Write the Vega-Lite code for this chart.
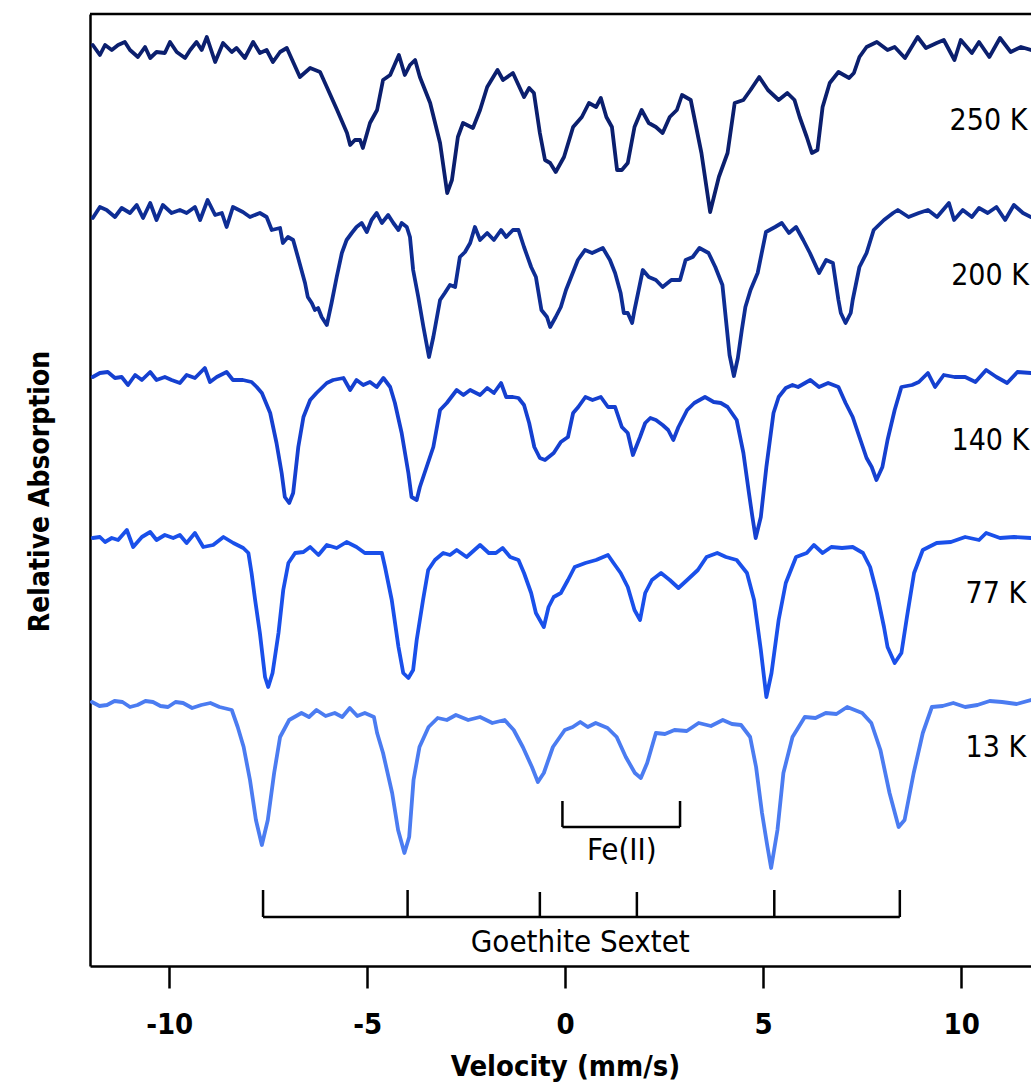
{
"$schema": "https://vega.github.io/schema/vega-lite/v6.json",
"width": 941,
"height": 952,
"autosize": {"type": "none"},
"padding": {"left": 90, "top": 14, "right": 0, "bottom": 118},
"background": "white",
"config": {"view": {"stroke": null}, "font": "DejaVu Sans Condensed"},
"datasets": {
"spectra": [
{"T":"250 K","v":-11.93,"a":92.1},{"T":"250 K","v":-11.75,"a":91.1},{"T":"250 K","v":-11.62,"a":92.1},{"T":"250 K","v":-11.45,"a":91.6},{"T":"250 K","v":-11.29,"a":92.1},{"T":"250 K","v":-11.12,"a":92.4},{"T":"250 K","v":-10.99,"a":91.6},{"T":"250 K","v":-10.79,"a":90.9},{"T":"250 K","v":-10.61,"a":91.9},{"T":"250 K","v":-10.48,"a":90.8},{"T":"250 K","v":-10.32,"a":91.4},{"T":"250 K","v":-10.11,"a":91.3},{"T":"250 K","v":-9.98,"a":92.4},{"T":"250 K","v":-9.81,"a":91.4},{"T":"250 K","v":-9.6,"a":90.8},{"T":"250 K","v":-9.47,"a":91.6},{"T":"250 K","v":-9.31,"a":92.4},{"T":"250 K","v":-9.18,"a":91.6},{"T":"250 K","v":-9.05,"a":92.9},{"T":"250 K","v":-8.84,"a":90.4},{"T":"250 K","v":-8.64,"a":92.3},{"T":"250 K","v":-8.42,"a":91.4},{"T":"250 K","v":-8.3,"a":91.8},{"T":"250 K","v":-8.09,"a":90.8},{"T":"250 K","v":-7.88,"a":92.4},{"T":"250 K","v":-7.71,"a":91.3},{"T":"250 K","v":-7.54,"a":91.6},{"T":"250 K","v":-7.38,"a":90.4},{"T":"250 K","v":-7.2,"a":91.4},{"T":"250 K","v":-7.03,"a":91.8},{"T":"250 K","v":-6.7,"a":88.9},{"T":"250 K","v":-6.44,"a":89.8},{"T":"250 K","v":-6.19,"a":89.4},{"T":"250 K","v":-6.02,"a":87.9},{"T":"250 K","v":-5.76,"a":85.6},{"T":"250 K","v":-5.51,"a":83.3},{"T":"250 K","v":-5.43,"a":82.1},{"T":"250 K","v":-5.31,"a":82.6},{"T":"250 K","v":-5.18,"a":82.6},{"T":"250 K","v":-5.11,"a":81.8},{"T":"250 K","v":-4.93,"a":84.3},{"T":"250 K","v":-4.75,"a":85.6},{"T":"250 K","v":-4.6,"a":88.6},{"T":"250 K","v":-4.42,"a":89.1},{"T":"250 K","v":-4.2,"a":91.1},{"T":"250 K","v":-4.05,"a":89.1},{"T":"250 K","v":-3.92,"a":90.1},{"T":"250 K","v":-3.79,"a":90.6},{"T":"250 K","v":-3.67,"a":88.9},{"T":"250 K","v":-3.41,"a":86.3},{"T":"250 K","v":-3.16,"a":82.3},{"T":"250 K","v":-2.98,"a":77.3},{"T":"250 K","v":-2.86,"a":78.6},{"T":"250 K","v":-2.71,"a":82.9},{"T":"250 K","v":-2.58,"a":84.3},{"T":"250 K","v":-2.33,"a":83.8},{"T":"250 K","v":-2.15,"a":85.6},{"T":"250 K","v":-1.97,"a":87.9},{"T":"250 K","v":-1.71,"a":89.6},{"T":"250 K","v":-1.57,"a":88.6},{"T":"250 K","v":-1.32,"a":89.3},{"T":"250 K","v":-1.04,"a":86.9},{"T":"250 K","v":-0.91,"a":87.8},{"T":"250 K","v":-0.79,"a":87.3},{"T":"250 K","v":-0.64,"a":83.3},{"T":"250 K","v":-0.51,"a":80.6},{"T":"250 K","v":-0.38,"a":80.3},{"T":"250 K","v":-0.24,"a":79.4},{"T":"250 K","v":-0.03,"a":80.9},{"T":"250 K","v":0.2,"a":83.9},{"T":"250 K","v":0.42,"a":84.9},{"T":"250 K","v":0.6,"a":86.3},{"T":"250 K","v":0.78,"a":85.9},{"T":"250 K","v":0.9,"a":86.8},{"T":"250 K","v":1.04,"a":84.9},{"T":"250 K","v":1.18,"a":83.9},{"T":"250 K","v":1.31,"a":79.6},{"T":"250 K","v":1.43,"a":79.6},{"T":"250 K","v":1.58,"a":80.3},{"T":"250 K","v":1.75,"a":83.9},{"T":"250 K","v":1.93,"a":85.6},{"T":"250 K","v":2.11,"a":84.3},{"T":"250 K","v":2.29,"a":83.9},{"T":"250 K","v":2.46,"a":83.3},{"T":"250 K","v":2.64,"a":84.9},{"T":"250 K","v":2.82,"a":85.6},{"T":"250 K","v":2.95,"a":87.1},{"T":"250 K","v":3.17,"a":86.6},{"T":"250 K","v":3.44,"a":81.3},{"T":"250 K","v":3.66,"a":75.4},{"T":"250 K","v":3.88,"a":78.9},{"T":"250 K","v":4.1,"a":81.3},{"T":"250 K","v":4.28,"a":86.3},{"T":"250 K","v":4.5,"a":86.6},{"T":"250 K","v":4.68,"a":87.6},{"T":"250 K","v":4.9,"a":88.9},{"T":"250 K","v":5.12,"a":87.6},{"T":"250 K","v":5.39,"a":86.6},{"T":"250 K","v":5.61,"a":87.3},{"T":"250 K","v":5.79,"a":86.6},{"T":"250 K","v":5.92,"a":84.9},{"T":"250 K","v":6.1,"a":82.9},{"T":"250 K","v":6.23,"a":81.3},{"T":"250 K","v":6.37,"a":81.6},{"T":"250 K","v":6.5,"a":85.9},{"T":"250 K","v":6.68,"a":88.3},{"T":"250 K","v":6.9,"a":89.4},{"T":"250 K","v":7.17,"a":88.8},{"T":"250 K","v":7.29,"a":89.3},{"T":"250 K","v":7.43,"a":90.9},{"T":"250 K","v":7.61,"a":91.9},{"T":"250 K","v":7.87,"a":92.4},{"T":"250 K","v":8.14,"a":91.6},{"T":"250 K","v":8.32,"a":91.9},{"T":"250 K","v":8.58,"a":90.8},{"T":"250 K","v":8.9,"a":92.9},{"T":"250 K","v":9.11,"a":91.8},{"T":"250 K","v":9.38,"a":92.3},{"T":"250 K","v":9.56,"a":92.6},{"T":"250 K","v":9.83,"a":90.6},{"T":"250 K","v":9.99,"a":92.6},{"T":"250 K","v":10.27,"a":91.3},{"T":"250 K","v":10.45,"a":92.4},{"T":"250 K","v":10.71,"a":90.9},{"T":"250 K","v":10.98,"a":92.8},{"T":"250 K","v":11.25,"a":91.4},{"T":"250 K","v":11.51,"a":91.9},{"T":"250 K","v":11.76,"a":91.6},

{"T":"200 K","v":-11.93,"a":74.8},{"T":"200 K","v":-11.75,"a":75.9},{"T":"200 K","v":-11.58,"a":75.6},{"T":"200 K","v":-11.37,"a":74.9},{"T":"200 K","v":-11.2,"a":75.8},{"T":"200 K","v":-10.99,"a":75.3},{"T":"200 K","v":-10.82,"a":76.1},{"T":"200 K","v":-10.66,"a":74.8},{"T":"200 K","v":-10.48,"a":76.3},{"T":"200 K","v":-10.32,"a":74.6},{"T":"200 K","v":-10.16,"a":76.1},{"T":"200 K","v":-9.94,"a":75.3},{"T":"200 K","v":-9.73,"a":75.6},{"T":"200 K","v":-9.56,"a":75.3},{"T":"200 K","v":-9.35,"a":75.9},{"T":"200 K","v":-9.22,"a":74.6},{"T":"200 K","v":-9.03,"a":76.6},{"T":"200 K","v":-8.84,"a":75.1},{"T":"200 K","v":-8.67,"a":75.3},{"T":"200 K","v":-8.55,"a":73.9},{"T":"200 K","v":-8.39,"a":75.9},{"T":"200 K","v":-8.14,"a":75.4},{"T":"200 K","v":-7.96,"a":74.9},{"T":"200 K","v":-7.71,"a":75.3},{"T":"200 K","v":-7.54,"a":74.9},{"T":"200 K","v":-7.41,"a":73.6},{"T":"200 K","v":-7.2,"a":73.8},{"T":"200 K","v":-7.13,"a":72.3},{"T":"200 K","v":-7.0,"a":72.9},{"T":"200 K","v":-6.87,"a":72.6},{"T":"200 K","v":-6.75,"a":70.9},{"T":"200 K","v":-6.57,"a":68.3},{"T":"200 K","v":-6.5,"a":66.9},{"T":"200 K","v":-6.4,"a":66.3},{"T":"200 K","v":-6.32,"a":65.6},{"T":"200 K","v":-6.24,"a":65.8},{"T":"200 K","v":-6.15,"a":64.9},{"T":"200 K","v":-6.02,"a":64.1},{"T":"200 K","v":-5.9,"a":66.3},{"T":"200 K","v":-5.77,"a":68.9},{"T":"200 K","v":-5.64,"a":71.3},{"T":"200 K","v":-5.52,"a":72.6},{"T":"200 K","v":-5.39,"a":73.3},{"T":"200 K","v":-5.27,"a":73.9},{"T":"200 K","v":-5.14,"a":74.3},{"T":"200 K","v":-5.01,"a":73.4},{"T":"200 K","v":-4.89,"a":74.6},{"T":"200 K","v":-4.76,"a":75.3},{"T":"200 K","v":-4.63,"a":74.3},{"T":"200 K","v":-4.47,"a":75.1},{"T":"200 K","v":-4.34,"a":74.3},{"T":"200 K","v":-4.21,"a":73.6},{"T":"200 K","v":-4.13,"a":74.3},{"T":"200 K","v":-4.0,"a":73.9},{"T":"200 K","v":-3.92,"a":72.9},{"T":"200 K","v":-3.84,"a":69.6},{"T":"200 K","v":-3.71,"a":66.9},{"T":"200 K","v":-3.58,"a":63.9},{"T":"200 K","v":-3.44,"a":60.9},{"T":"200 K","v":-3.33,"a":62.9},{"T":"200 K","v":-3.16,"a":66.6},{"T":"200 K","v":-3.04,"a":67.3},{"T":"200 K","v":-2.91,"a":68.1},{"T":"200 K","v":-2.78,"a":67.9},{"T":"200 K","v":-2.66,"a":70.9},{"T":"200 K","v":-2.53,"a":71.4},{"T":"200 K","v":-2.4,"a":72.3},{"T":"200 K","v":-2.28,"a":73.9},{"T":"200 K","v":-2.15,"a":72.6},{"T":"200 K","v":-1.97,"a":73.3},{"T":"200 K","v":-1.8,"a":72.6},{"T":"200 K","v":-1.62,"a":73.6},{"T":"200 K","v":-1.49,"a":72.9},{"T":"200 K","v":-1.32,"a":73.6},{"T":"200 K","v":-1.18,"a":73.6},{"T":"200 K","v":-1.04,"a":71.9},{"T":"200 K","v":-0.86,"a":69.9},{"T":"200 K","v":-0.74,"a":68.9},{"T":"200 K","v":-0.6,"a":65.6},{"T":"200 K","v":-0.46,"a":64.9},{"T":"200 K","v":-0.38,"a":63.9},{"T":"200 K","v":-0.24,"a":64.9},{"T":"200 K","v":-0.11,"a":65.9},{"T":"200 K","v":0.02,"a":67.6},{"T":"200 K","v":0.15,"a":68.9},{"T":"200 K","v":0.32,"a":70.6},{"T":"200 K","v":0.5,"a":71.6},{"T":"200 K","v":0.68,"a":71.3},{"T":"200 K","v":0.95,"a":71.8},{"T":"200 K","v":1.13,"a":70.6},{"T":"200 K","v":1.26,"a":69.3},{"T":"200 K","v":1.4,"a":67.3},{"T":"200 K","v":1.48,"a":65.3},{"T":"200 K","v":1.58,"a":65.3},{"T":"200 K","v":1.69,"a":64.3},{"T":"200 K","v":1.75,"a":65.6},{"T":"200 K","v":1.84,"a":67.3},{"T":"200 K","v":1.96,"a":69.6},{"T":"200 K","v":2.11,"a":68.9},{"T":"200 K","v":2.29,"a":68.6},{"T":"200 K","v":2.46,"a":67.9},{"T":"200 K","v":2.68,"a":68.6},{"T":"200 K","v":2.9,"a":68.6},{"T":"200 K","v":3.04,"a":70.6},{"T":"200 K","v":3.22,"a":70.9},{"T":"200 K","v":3.39,"a":71.8},{"T":"200 K","v":3.62,"a":71.3},{"T":"200 K","v":3.79,"a":69.9},{"T":"200 K","v":3.97,"a":68.1},{"T":"200 K","v":4.06,"a":64.6},{"T":"200 K","v":4.15,"a":61.1},{"T":"200 K","v":4.26,"a":59.0},{"T":"200 K","v":4.36,"a":60.8},{"T":"200 K","v":4.46,"a":63.6},{"T":"200 K","v":4.55,"a":65.9},{"T":"200 K","v":4.68,"a":67.6},{"T":"200 K","v":4.86,"a":69.3},{"T":"200 K","v":5.07,"a":73.4},{"T":"200 K","v":5.3,"a":73.9},{"T":"200 K","v":5.47,"a":74.3},{"T":"200 K","v":5.65,"a":73.3},{"T":"200 K","v":5.83,"a":73.9},{"T":"200 K","v":6.01,"a":72.6},{"T":"200 K","v":6.18,"a":71.3},{"T":"200 K","v":6.41,"a":69.3},{"T":"200 K","v":6.59,"a":70.6},{"T":"200 K","v":6.76,"a":70.3},{"T":"200 K","v":6.9,"a":66.6},{"T":"200 K","v":6.96,"a":65.3},{"T":"200 K","v":7.08,"a":64.3},{"T":"200 K","v":7.21,"a":65.3},{"T":"200 K","v":7.26,"a":66.6},{"T":"200 K","v":7.43,"a":69.9},{"T":"200 K","v":7.61,"a":71.3},{"T":"200 K","v":7.79,"a":73.6},{"T":"200 K","v":8.05,"a":74.6},{"T":"200 K","v":8.28,"a":75.3},{"T":"200 K","v":8.4,"a":75.6},{"T":"200 K","v":8.67,"a":74.9},{"T":"200 K","v":8.93,"a":75.3},{"T":"200 K","v":9.16,"a":75.6},{"T":"200 K","v":9.39,"a":74.9},{"T":"200 K","v":9.69,"a":76.3},{"T":"200 K","v":9.82,"a":74.6},{"T":"200 K","v":10.04,"a":75.6},{"T":"200 K","v":10.27,"a":74.9},{"T":"200 K","v":10.45,"a":75.8},{"T":"200 K","v":10.67,"a":75.3},{"T":"200 K","v":10.89,"a":75.9},{"T":"200 K","v":11.11,"a":74.6},{"T":"200 K","v":11.33,"a":76.1},{"T":"200 K","v":11.56,"a":75.3},{"T":"200 K","v":11.76,"a":74.9},

{"T":"140 K","v":-11.93,"a":58.9},{"T":"140 K","v":-11.75,"a":59.3},{"T":"140 K","v":-11.55,"a":59.4},{"T":"140 K","v":-11.37,"a":58.8},{"T":"140 K","v":-11.2,"a":58.9},{"T":"140 K","v":-11.04,"a":58.1},{"T":"140 K","v":-10.86,"a":59.1},{"T":"140 K","v":-10.69,"a":58.6},{"T":"140 K","v":-10.48,"a":59.4},{"T":"140 K","v":-10.32,"a":58.6},{"T":"140 K","v":-10.11,"a":58.9},{"T":"140 K","v":-9.94,"a":58.6},{"T":"140 K","v":-9.73,"a":58.3},{"T":"140 K","v":-9.56,"a":59.1},{"T":"140 K","v":-9.35,"a":58.8},{"T":"140 K","v":-9.1,"a":59.8},{"T":"140 K","v":-8.97,"a":58.4},{"T":"140 K","v":-8.8,"a":58.9},{"T":"140 K","v":-8.55,"a":59.4},{"T":"140 K","v":-8.39,"a":58.6},{"T":"140 K","v":-8.14,"a":58.6},{"T":"140 K","v":-7.92,"a":58.4},{"T":"140 K","v":-7.79,"a":57.9},{"T":"140 K","v":-7.66,"a":57.3},{"T":"140 K","v":-7.45,"a":55.3},{"T":"140 K","v":-7.29,"a":52.3},{"T":"140 K","v":-7.16,"a":49.3},{"T":"140 K","v":-7.08,"a":46.9},{"T":"140 K","v":-6.97,"a":46.3},{"T":"140 K","v":-6.87,"a":47.3},{"T":"140 K","v":-6.74,"a":51.9},{"T":"140 K","v":-6.61,"a":54.9},{"T":"140 K","v":-6.44,"a":56.6},{"T":"140 K","v":-6.28,"a":57.3},{"T":"140 K","v":-6.02,"a":58.3},{"T":"140 K","v":-5.86,"a":58.6},{"T":"140 K","v":-5.6,"a":58.8},{"T":"140 K","v":-5.43,"a":57.6},{"T":"140 K","v":-5.27,"a":58.6},{"T":"140 K","v":-5.1,"a":58.1},{"T":"140 K","v":-4.93,"a":58.4},{"T":"140 K","v":-4.76,"a":57.9},{"T":"140 K","v":-4.59,"a":58.8},{"T":"140 K","v":-4.42,"a":57.9},{"T":"140 K","v":-4.3,"a":56.3},{"T":"140 K","v":-4.13,"a":53.3},{"T":"140 K","v":-3.96,"a":49.3},{"T":"140 K","v":-3.88,"a":46.9},{"T":"140 K","v":-3.75,"a":46.6},{"T":"140 K","v":-3.67,"a":47.9},{"T":"140 K","v":-3.5,"a":49.9},{"T":"140 K","v":-3.33,"a":51.9},{"T":"140 K","v":-3.16,"a":55.6},{"T":"140 K","v":-2.99,"a":56.3},{"T":"140 K","v":-2.74,"a":57.6},{"T":"140 K","v":-2.57,"a":57.1},{"T":"140 K","v":-2.4,"a":57.6},{"T":"140 K","v":-2.15,"a":57.1},{"T":"140 K","v":-1.97,"a":57.8},{"T":"140 K","v":-1.8,"a":57.3},{"T":"140 K","v":-1.62,"a":58.3},{"T":"140 K","v":-1.49,"a":56.9},{"T":"140 K","v":-1.32,"a":56.9},{"T":"140 K","v":-1.18,"a":56.8},{"T":"140 K","v":-1.04,"a":56.1},{"T":"140 K","v":-0.91,"a":54.3},{"T":"140 K","v":-0.78,"a":51.9},{"T":"140 K","v":-0.64,"a":50.8},{"T":"140 K","v":-0.51,"a":50.6},{"T":"140 K","v":-0.29,"a":51.3},{"T":"140 K","v":-0.11,"a":52.4},{"T":"140 K","v":0.07,"a":52.9},{"T":"140 K","v":0.2,"a":55.3},{"T":"140 K","v":0.33,"a":55.9},{"T":"140 K","v":0.51,"a":56.9},{"T":"140 K","v":0.69,"a":56.6},{"T":"140 K","v":0.9,"a":56.9},{"T":"140 K","v":1.08,"a":55.9},{"T":"140 K","v":1.26,"a":55.9},{"T":"140 K","v":1.43,"a":53.9},{"T":"140 K","v":1.58,"a":53.3},{"T":"140 K","v":1.71,"a":51.1},{"T":"140 K","v":1.89,"a":52.9},{"T":"140 K","v":2.02,"a":54.3},{"T":"140 K","v":2.15,"a":54.8},{"T":"140 K","v":2.29,"a":54.6},{"T":"140 K","v":2.46,"a":54.1},{"T":"140 K","v":2.6,"a":53.6},{"T":"140 K","v":2.73,"a":52.6},{"T":"140 K","v":2.86,"a":53.9},{"T":"140 K","v":3.08,"a":55.6},{"T":"140 K","v":3.26,"a":56.3},{"T":"140 K","v":3.53,"a":56.9},{"T":"140 K","v":3.75,"a":56.4},{"T":"140 K","v":3.93,"a":56.3},{"T":"140 K","v":4.1,"a":55.9},{"T":"140 K","v":4.33,"a":54.6},{"T":"140 K","v":4.5,"a":51.3},{"T":"140 K","v":4.64,"a":47.3},{"T":"140 K","v":4.72,"a":45.1},{"T":"140 K","v":4.81,"a":42.8},{"T":"140 K","v":4.94,"a":44.9},{"T":"140 K","v":5.08,"a":49.9},{"T":"140 K","v":5.26,"a":55.3},{"T":"140 K","v":5.39,"a":56.9},{"T":"140 K","v":5.57,"a":57.8},{"T":"140 K","v":5.74,"a":58.1},{"T":"140 K","v":5.88,"a":57.9},{"T":"140 K","v":6.19,"a":58.6},{"T":"140 K","v":6.41,"a":57.9},{"T":"140 K","v":6.64,"a":58.3},{"T":"140 K","v":6.9,"a":57.9},{"T":"140 K","v":7.08,"a":56.3},{"T":"140 K","v":7.26,"a":54.9},{"T":"140 K","v":7.43,"a":52.9},{"T":"140 K","v":7.61,"a":50.8},{"T":"140 K","v":7.74,"a":49.9},{"T":"140 K","v":7.86,"a":48.6},{"T":"140 K","v":8.01,"a":49.9},{"T":"140 K","v":8.14,"a":52.6},{"T":"140 K","v":8.32,"a":55.6},{"T":"140 K","v":8.49,"a":57.9},{"T":"140 K","v":8.76,"a":58.1},{"T":"140 K","v":8.93,"a":58.4},{"T":"140 K","v":9.16,"a":59.3},{"T":"140 K","v":9.34,"a":57.9},{"T":"140 K","v":9.56,"a":59.1},{"T":"140 K","v":9.83,"a":58.9},{"T":"140 K","v":10.1,"a":58.9},{"T":"140 K","v":10.36,"a":58.4},{"T":"140 K","v":10.63,"a":59.6},{"T":"140 K","v":10.89,"a":58.9},{"T":"140 K","v":11.16,"a":58.3},{"T":"140 K","v":11.42,"a":59.4},{"T":"140 K","v":11.76,"a":59.3},

{"T":"77 K","v":-11.93,"a":42.8},{"T":"77 K","v":-11.75,"a":42.9},{"T":"77 K","v":-11.62,"a":42.4},{"T":"77 K","v":-11.45,"a":42.8},{"T":"77 K","v":-11.29,"a":42.6},{"T":"77 K","v":-11.07,"a":43.6},{"T":"77 K","v":-10.91,"a":41.9},{"T":"77 K","v":-10.69,"a":42.9},{"T":"77 K","v":-10.48,"a":43.4},{"T":"77 K","v":-10.32,"a":42.6},{"T":"77 K","v":-10.11,"a":43.1},{"T":"77 K","v":-9.9,"a":42.8},{"T":"77 K","v":-9.73,"a":43.1},{"T":"77 K","v":-9.56,"a":42.3},{"T":"77 K","v":-9.35,"a":43.3},{"T":"77 K","v":-9.14,"a":41.9},{"T":"77 K","v":-8.89,"a":42.1},{"T":"77 K","v":-8.63,"a":42.9},{"T":"77 K","v":-8.38,"a":42.3},{"T":"77 K","v":-8.13,"a":41.8},{"T":"77 K","v":-8.0,"a":41.3},{"T":"77 K","v":-7.92,"a":39.3},{"T":"77 K","v":-7.83,"a":36.6},{"T":"77 K","v":-7.71,"a":33.3},{"T":"77 K","v":-7.58,"a":28.9},{"T":"77 K","v":-7.5,"a":27.9},{"T":"77 K","v":-7.39,"a":29.3},{"T":"77 K","v":-7.24,"a":33.3},{"T":"77 K","v":-7.12,"a":37.6},{"T":"77 K","v":-6.99,"a":40.3},{"T":"77 K","v":-6.82,"a":41.3},{"T":"77 K","v":-6.61,"a":41.4},{"T":"77 K","v":-6.44,"a":41.9},{"T":"77 K","v":-6.23,"a":41.1},{"T":"77 K","v":-6.02,"a":42.1},{"T":"77 K","v":-5.77,"a":41.8},{"T":"77 K","v":-5.52,"a":42.4},{"T":"77 K","v":-5.27,"a":41.9},{"T":"77 K","v":-5.06,"a":41.3},{"T":"77 K","v":-4.85,"a":41.3},{"T":"77 K","v":-4.63,"a":41.3},{"T":"77 K","v":-4.55,"a":39.9},{"T":"77 K","v":-4.38,"a":36.6},{"T":"77 K","v":-4.21,"a":31.9},{"T":"77 K","v":-4.09,"a":29.3},{"T":"77 K","v":-3.96,"a":28.8},{"T":"77 K","v":-3.84,"a":29.6},{"T":"77 K","v":-3.75,"a":32.6},{"T":"77 K","v":-3.59,"a":36.6},{"T":"77 K","v":-3.46,"a":39.6},{"T":"77 K","v":-3.29,"a":40.6},{"T":"77 K","v":-3.08,"a":41.3},{"T":"77 K","v":-2.91,"a":41.1},{"T":"77 K","v":-2.74,"a":41.6},{"T":"77 K","v":-2.49,"a":40.9},{"T":"77 K","v":-2.15,"a":42.1},{"T":"77 K","v":-1.93,"a":41.3},{"T":"77 K","v":-1.75,"a":41.3},{"T":"77 K","v":-1.58,"a":41.8},{"T":"77 K","v":-1.39,"a":40.9},{"T":"77 K","v":-1.18,"a":40.6},{"T":"77 K","v":-1.04,"a":39.3},{"T":"77 K","v":-0.86,"a":37.3},{"T":"77 K","v":-0.74,"a":35.3},{"T":"77 K","v":-0.64,"a":34.6},{"T":"77 K","v":-0.54,"a":33.9},{"T":"77 K","v":-0.42,"a":35.9},{"T":"77 K","v":-0.29,"a":36.9},{"T":"77 K","v":-0.11,"a":37.3},{"T":"77 K","v":0.07,"a":38.6},{"T":"77 K","v":0.24,"a":39.9},{"T":"77 K","v":0.51,"a":40.3},{"T":"77 K","v":0.78,"a":40.6},{"T":"77 K","v":1.08,"a":41.1},{"T":"77 K","v":1.22,"a":40.3},{"T":"77 K","v":1.4,"a":39.3},{"T":"77 K","v":1.58,"a":37.9},{"T":"77 K","v":1.75,"a":35.6},{"T":"77 K","v":1.89,"a":34.6},{"T":"77 K","v":2.02,"a":37.3},{"T":"77 K","v":2.19,"a":38.6},{"T":"77 K","v":2.42,"a":39.3},{"T":"77 K","v":2.64,"a":38.6},{"T":"77 K","v":2.86,"a":37.8},{"T":"77 K","v":3.08,"a":38.6},{"T":"77 K","v":3.35,"a":39.6},{"T":"77 K","v":3.57,"a":40.9},{"T":"77 K","v":3.84,"a":41.3},{"T":"77 K","v":4.06,"a":40.9},{"T":"77 K","v":4.33,"a":40.6},{"T":"77 K","v":4.59,"a":39.3},{"T":"77 K","v":4.77,"a":36.6},{"T":"77 K","v":4.94,"a":31.6},{"T":"77 K","v":5.08,"a":26.9},{"T":"77 K","v":5.21,"a":29.3},{"T":"77 K","v":5.39,"a":34.6},{"T":"77 K","v":5.57,"a":38.3},{"T":"77 K","v":5.83,"a":40.9},{"T":"77 K","v":6.1,"a":41.3},{"T":"77 K","v":6.28,"a":42.1},{"T":"77 K","v":6.5,"a":41.3},{"T":"77 K","v":6.72,"a":41.9},{"T":"77 K","v":6.99,"a":41.8},{"T":"77 K","v":7.26,"a":41.9},{"T":"77 K","v":7.52,"a":41.3},{"T":"77 K","v":7.7,"a":39.9},{"T":"77 K","v":7.87,"a":37.3},{"T":"77 K","v":8.05,"a":33.9},{"T":"77 K","v":8.14,"a":31.9},{"T":"77 K","v":8.32,"a":30.3},{"T":"77 K","v":8.49,"a":31.3},{"T":"77 K","v":8.63,"a":34.9},{"T":"77 K","v":8.81,"a":39.3},{"T":"77 K","v":9.03,"a":41.6},{"T":"77 K","v":9.38,"a":42.3},{"T":"77 K","v":9.74,"a":42.4},{"T":"77 K","v":10.1,"a":42.9},{"T":"77 K","v":10.45,"a":42.6},{"T":"77 K","v":10.63,"a":43.3},{"T":"77 K","v":10.98,"a":42.8},{"T":"77 K","v":11.33,"a":42.9},{"T":"77 K","v":11.76,"a":42.8},

{"T":"13 K","v":-11.95,"a":26.4},{"T":"13 K","v":-11.76,"a":26.0},{"T":"13 K","v":-11.57,"a":26.1},{"T":"13 K","v":-11.38,"a":26.5},{"T":"13 K","v":-11.18,"a":26.4},{"T":"13 K","v":-10.99,"a":25.9},{"T":"13 K","v":-10.8,"a":26.1},{"T":"13 K","v":-10.6,"a":26.5},{"T":"13 K","v":-10.41,"a":26.4},{"T":"13 K","v":-10.22,"a":26.0},{"T":"13 K","v":-10.03,"a":25.9},{"T":"13 K","v":-9.84,"a":26.4},{"T":"13 K","v":-9.65,"a":26.3},{"T":"13 K","v":-9.42,"a":25.8},{"T":"13 K","v":-9.19,"a":26.1},{"T":"13 K","v":-8.96,"a":26.3},{"T":"13 K","v":-8.73,"a":25.9},{"T":"13 K","v":-8.42,"a":25.6},{"T":"13 K","v":-8.27,"a":23.9},{"T":"13 K","v":-8.12,"a":21.9},{"T":"13 K","v":-7.96,"a":18.6},{"T":"13 K","v":-7.81,"a":14.6},{"T":"13 K","v":-7.66,"a":12.1},{"T":"13 K","v":-7.51,"a":14.6},{"T":"13 K","v":-7.35,"a":19.3},{"T":"13 K","v":-7.2,"a":22.9},{"T":"13 K","v":-6.97,"a":24.6},{"T":"13 K","v":-6.66,"a":25.3},{"T":"13 K","v":-6.47,"a":24.9},{"T":"13 K","v":-6.28,"a":25.6},{"T":"13 K","v":-6.05,"a":25.0},{"T":"13 K","v":-5.82,"a":25.3},{"T":"13 K","v":-5.63,"a":24.9},{"T":"13 K","v":-5.44,"a":25.8},{"T":"13 K","v":-5.25,"a":25.0},{"T":"13 K","v":-5.06,"a":25.3},{"T":"13 K","v":-4.83,"a":24.9},{"T":"13 K","v":-4.75,"a":23.3},{"T":"13 K","v":-4.6,"a":21.3},{"T":"13 K","v":-4.37,"a":17.3},{"T":"13 K","v":-4.22,"a":13.6},{"T":"13 K","v":-4.06,"a":11.3},{"T":"13 K","v":-3.94,"a":12.9},{"T":"13 K","v":-3.83,"a":18.6},{"T":"13 K","v":-3.68,"a":21.9},{"T":"13 K","v":-3.45,"a":23.9},{"T":"13 K","v":-3.22,"a":24.8},{"T":"13 K","v":-2.99,"a":24.6},{"T":"13 K","v":-2.76,"a":25.1},{"T":"13 K","v":-2.45,"a":24.6},{"T":"13 K","v":-2.15,"a":24.9},{"T":"13 K","v":-1.84,"a":24.3},{"T":"13 K","v":-1.53,"a":24.6},{"T":"13 K","v":-1.3,"a":23.6},{"T":"13 K","v":-1.07,"a":21.9},{"T":"13 K","v":-0.84,"a":19.9},{"T":"13 K","v":-0.69,"a":18.4},{"T":"13 K","v":-0.54,"a":19.3},{"T":"13 K","v":-0.31,"a":21.9},{"T":"13 K","v":-0.01,"a":23.6},{"T":"13 K","v":0.19,"a":23.9},{"T":"13 K","v":0.38,"a":24.4},{"T":"13 K","v":0.57,"a":23.9},{"T":"13 K","v":0.77,"a":24.3},{"T":"13 K","v":1.07,"a":23.8},{"T":"13 K","v":1.3,"a":22.9},{"T":"13 K","v":1.53,"a":20.9},{"T":"13 K","v":1.76,"a":19.3},{"T":"13 K","v":1.91,"a":18.8},{"T":"13 K","v":2.07,"a":20.3},{"T":"13 K","v":2.29,"a":23.3},{"T":"13 K","v":2.52,"a":23.2},{"T":"13 K","v":2.76,"a":23.6},{"T":"13 K","v":3.07,"a":23.5},{"T":"13 K","v":3.37,"a":24.3},{"T":"13 K","v":3.68,"a":24.0},{"T":"13 K","v":3.98,"a":24.6},{"T":"13 K","v":4.21,"a":24.2},{"T":"13 K","v":4.44,"a":24.1},{"T":"13 K","v":4.67,"a":22.9},{"T":"13 K","v":4.82,"a":19.9},{"T":"13 K","v":4.97,"a":15.3},{"T":"13 K","v":5.1,"a":12.1},{"T":"13 K","v":5.2,"a":9.8},{"T":"13 K","v":5.36,"a":13.6},{"T":"13 K","v":5.51,"a":19.3},{"T":"13 K","v":5.74,"a":22.9},{"T":"13 K","v":6.05,"a":24.9},{"T":"13 K","v":6.32,"a":24.8},{"T":"13 K","v":6.58,"a":25.3},{"T":"13 K","v":6.85,"a":25.2},{"T":"13 K","v":7.12,"a":25.9},{"T":"13 K","v":7.5,"a":25.3},{"T":"13 K","v":7.73,"a":24.3},{"T":"13 K","v":7.96,"a":21.6},{"T":"13 K","v":8.19,"a":17.3},{"T":"13 K","v":8.42,"a":13.9},{"T":"13 K","v":8.57,"a":14.6},{"T":"13 K","v":8.8,"a":19.3},{"T":"13 K","v":9.03,"a":23.3},{"T":"13 K","v":9.26,"a":25.9},{"T":"13 K","v":9.53,"a":26.0},{"T":"13 K","v":9.8,"a":26.3},{"T":"13 K","v":10.1,"a":25.9},{"T":"13 K","v":10.41,"a":26.1},{"T":"13 K","v":10.72,"a":26.5},{"T":"13 K","v":11.03,"a":26.4},{"T":"13 K","v":11.4,"a":26.2},{"T":"13 K","v":11.76,"a":26.6}
],
"brackets": [
{"x":-0.07,"x2":-0.07,"y":16.5,"y2":13.9},{"x":2.9,"x2":2.9,"y":16.5,"y2":13.9},{"x":-0.07,"x2":2.9,"y":13.9,"y2":13.9},
{"x":-7.63,"x2":-7.63,"y":7.6,"y2":4.9},{"x":-3.98,"x2":-3.98,"y":7.6,"y2":4.9},{"x":-0.64,"x2":-0.64,"y":7.4,"y2":4.9},{"x":1.81,"x2":1.81,"y":7.4,"y2":4.9},{"x":5.28,"x2":5.28,"y":7.6,"y2":4.9},{"x":8.45,"x2":8.45,"y":7.6,"y2":4.9},{"x":-7.63,"x2":8.45,"y":4.9,"y2":4.9}
],
"frame": [{"top": 95.2}],
"temps": [
{"x":11.67,"y":83.6,"label":"250 K"},{"x":11.71,"y":68.1,"label":"200 K"},{"x":11.72,"y":51.6,"label":"140 K"},{"x":11.64,"y":36.3,"label":"77 K"},{"x":11.64,"y":20.9,"label":"13 K"}
],
"notes": [
{"x":1.43,"y":10.6,"label":"Fe(II)"},{"x":0.38,"y":1.4,"label":"Goethite Sextet"}
]
},
"layer": [
{
"data": {"name": "spectra"},
"mark": {"type": "line", "strokeWidth": 3.8, "strokeJoin": "round", "strokeCap": "round", "clip": true},
"encoding": {
"x": {"field": "v", "type": "quantitative", "scale": {"domain": [-12, 11.7626], "nice": false, "zero": false},
"axis": {"values": [-10, -5, 0, 5, 10], "labelExpr": "datum.value + ''", "tickSize": 22, "tickWidth": 2.5, "tickColor": "black", "domainColor": "black", "domainWidth": 2.5, "grid": false, "labelFont": "DejaVu Sans Condensed", "labelFontWeight": "bold", "labelFontSize": 29, "labelColor": "black", "labelPadding": 22, "labelFlush": false, "title": "Velocity (mm/s)", "titleFont": "DejaVu Sans Condensed", "titleFontWeight": "bold", "titleFontSize": 29, "titleColor": "black", "titleBaseline": "alphabetic", "titleY": 109, "titleX": 475, "titleAlign": "center"}},
"y": {"field": "a", "type": "quantitative", "scale": {"domain": [0, 95.2], "nice": false, "zero": false},
"axis": {"ticks": false, "labels": false, "grid": false, "domainColor": "black", "domainWidth": 2.5, "title": "Relative Absorption", "titleFont": "DejaVu Sans Condensed", "titleFontWeight": "bold", "titleFontSize": 28, "titleColor": "black", "titleBaseline": "alphabetic", "titleAngle": 270, "titleX": -42, "titleY": 477, "titleAlign": "center"}},
"color": {"field": "T", "type": "nominal", "scale": {"domain": ["250 K", "200 K", "140 K", "77 K", "13 K"], "range": ["#0b1f6e", "#0e2d94", "#1540d0", "#1a50ea", "#4b7cf1"]}, "legend": null},
"detail": {"field": "T"}
}
},
{
"data": {"name": "brackets"},
"mark": {"type": "rule", "strokeWidth": 2.5, "color": "black"},
"encoding": {
"x": {"field": "x", "type": "quantitative"},
"x2": {"field": "x2"},
"y": {"field": "y", "type": "quantitative"},
"y2": {"field": "y2"}
}
},
{
"data": {"name": "frame"},
"mark": {"type": "rule", "strokeWidth": 2.5, "color": "black"},
"encoding": {"y": {"field": "top", "type": "quantitative"}}
},
{
"data": {"name": "temps"},
"mark": {"type": "text", "align": "right", "baseline": "alphabetic", "font": "DejaVu Sans Condensed", "fontSize": 30, "color": "black"},
"encoding": {
"x": {"field": "x", "type": "quantitative"},
"y": {"field": "y", "type": "quantitative"},
"text": {"field": "label"}
}
},
{
"data": {"name": "notes"},
"mark": {"type": "text", "align": "center", "baseline": "alphabetic", "font": "DejaVu Sans Condensed", "fontSize": 31, "color": "black"},
"encoding": {
"x": {"field": "x", "type": "quantitative"},
"y": {"field": "y", "type": "quantitative"},
"text": {"field": "label"}
}
}
]
}
